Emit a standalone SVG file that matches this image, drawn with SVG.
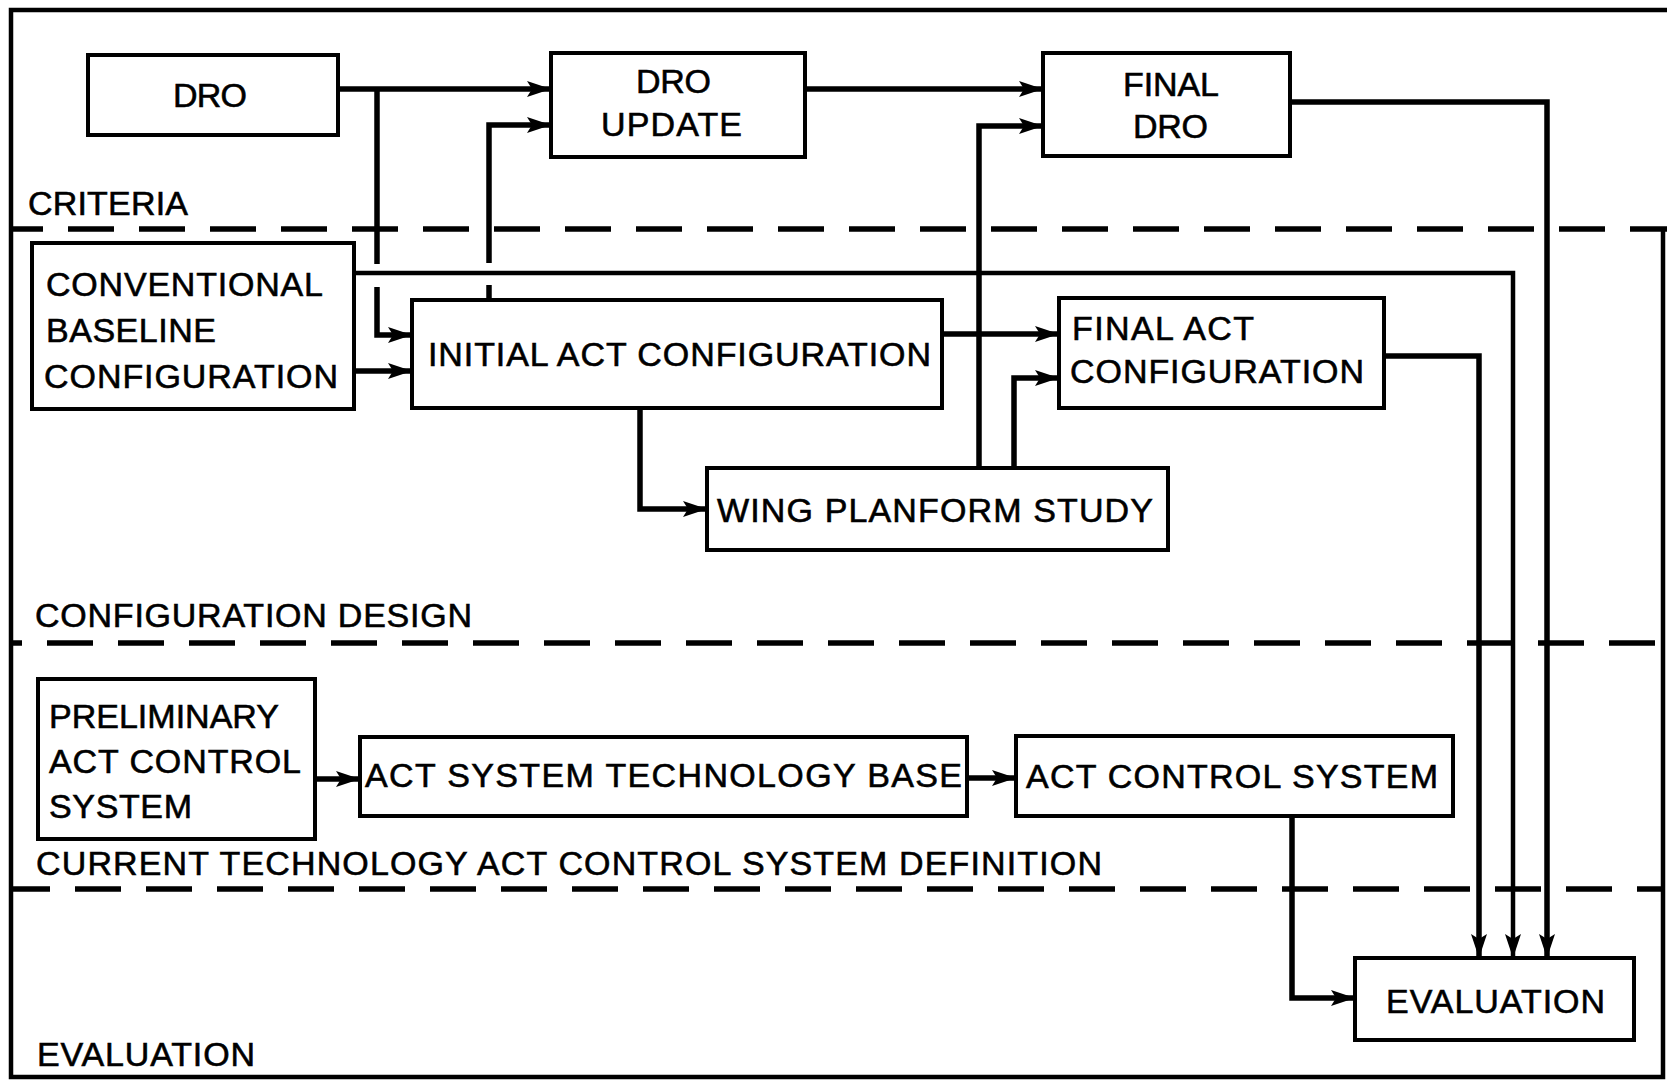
<svg xmlns="http://www.w3.org/2000/svg" width="1667" height="1080" viewBox="0 0 1667 1080">
<defs>
<style>
.bg{fill:#fff}
.frame{fill:none;stroke:#000;stroke-width:4.5}
.dash{fill:none;stroke:#000;stroke-width:5.5;stroke-dasharray:46 25}
.box{fill:#fff;stroke:#000;stroke-width:4}
.t{font-family:"Liberation Sans",Arial,Helvetica,sans-serif;font-size:34px;fill:#000;stroke:#000;stroke-width:0.6}
.c{fill:none;stroke:#000;stroke-width:5.5;stroke-linejoin:miter}
.thin{stroke-width:4.5}
</style>
<marker id="ah" markerUnits="userSpaceOnUse" markerWidth="26" markerHeight="18" refX="24" refY="8" orient="auto">
<path d="M0,0 L24,8 L0,16 L5,8 Z" fill="#000"/>
</marker>
</defs>
<rect class="bg" x="0" y="0" width="1667" height="1080"/>

<g id="frame">
<path class="frame" d="M1667,10 H11 V1077 H1663 V229"/>
</g>

<g id="swimlanes">
<line class="dash" x1="11" y1="229" x2="1667" y2="229" stroke-dashoffset="14"/>
<line class="dash" x1="11" y1="643" x2="1667" y2="643" stroke-dashoffset="35"/>
<line class="dash" x1="11" y1="889" x2="1663" y2="889" stroke-dashoffset="7"/>
<text class="t" x="28" y="215" textLength="160">CRITERIA</text>
<text class="t" x="35" y="627" textLength="437">CONFIGURATION DESIGN</text>
<text class="t" x="36" y="875" textLength="1066">CURRENT TECHNOLOGY ACT CONTROL SYSTEM DEFINITION</text>
<text class="t" x="37" y="1066" textLength="218">EVALUATION</text>
</g>

<g id="node-dro">
<rect class="box" x="88" y="55" width="250" height="80"/>
<text class="t" x="173" y="107" textLength="74">DRO</text>
</g>
<g id="node-dro-update">
<rect class="box" x="551" y="53" width="254" height="104"/>
<text class="t" x="636" y="93" textLength="75">DRO</text>
<text class="t" x="601" y="136" textLength="141">UPDATE</text>
</g>
<g id="node-final-dro">
<rect class="box" x="1043" y="53" width="247" height="103"/>
<text class="t" x="1123" y="96" textLength="96">FINAL</text>
<text class="t" x="1133" y="138" textLength="75">DRO</text>
</g>
<g id="node-conventional">
<rect class="box" x="32" y="243" width="322" height="166"/>
<text class="t" x="46" y="296" textLength="277">CONVENTIONAL</text>
<text class="t" x="46" y="342" textLength="170">BASELINE</text>
<text class="t" x="44" y="388" textLength="294">CONFIGURATION</text>
</g>
<g id="node-initial-act">
<rect class="box" x="412" y="300" width="530" height="108"/>
<text class="t" x="428" y="366" textLength="503">INITIAL ACT CONFIGURATION</text>
</g>
<g id="node-final-act">
<rect class="box" x="1059" y="298" width="325" height="110"/>
<text class="t" x="1072" y="340" textLength="182">FINAL ACT</text>
<text class="t" x="1070" y="383" textLength="294">CONFIGURATION</text>
</g>
<g id="node-wing">
<rect class="box" x="707" y="468" width="461" height="82"/>
<text class="t" x="717" y="522" textLength="436">WING PLANFORM STUDY</text>
</g>
<g id="node-preliminary">
<rect class="box" x="38" y="679" width="277" height="160"/>
<text class="t" x="49" y="728" textLength="230">PRELIMINARY</text>
<text class="t" x="49" y="773" textLength="252">ACT CONTROL</text>
<text class="t" x="49" y="818" textLength="143">SYSTEM</text>
</g>
<g id="node-tech-base">
<rect class="box" x="360" y="737" width="607" height="79"/>
<text class="t" x="365" y="787" textLength="597">ACT SYSTEM TECHNOLOGY BASE</text>
</g>
<g id="node-act-control">
<rect class="box" x="1016" y="736" width="437" height="80"/>
<text class="t" x="1026" y="788" textLength="412">ACT CONTROL SYSTEM</text>
</g>
<g id="node-evaluation">
<rect class="box" x="1355" y="958" width="279" height="82"/>
<text class="t" x="1386" y="1013" textLength="219">EVALUATION</text>
</g>

<g id="connectors">
<path class="c" d="M338,89 H551" marker-end="url(#ah)"/>
<path class="c" d="M377,89 V264"/>
<path class="c" d="M377,287 V335 H412" marker-end="url(#ah)"/>
<path class="c" d="M489,300 V285"/>
<path class="c" d="M489,263 V125 H551" marker-end="url(#ah)"/>
<path class="c" d="M805,89 H1043" marker-end="url(#ah)"/>
<path class="c" d="M979,468 V126 H1043" marker-end="url(#ah)"/>
<path class="c" d="M942,334 H1059" marker-end="url(#ah)"/>
<path class="c" d="M1014,468 V378 H1059" marker-end="url(#ah)"/>
<path class="c" d="M640,408 V509 H707" marker-end="url(#ah)"/>
<path class="c" d="M354,371 H412" marker-end="url(#ah)"/>
<path class="c thin" d="M354,273 H1513 V958" marker-end="url(#ah)"/>
<path class="c" d="M1290,102 H1547 V958" marker-end="url(#ah)"/>
<path class="c" d="M1384,356 H1479 V958" marker-end="url(#ah)"/>
<path class="c" d="M1292,816 V998 H1355" marker-end="url(#ah)"/>
<path class="c" d="M315,779 H360" marker-end="url(#ah)"/>
<path class="c" d="M967,778 H1016" marker-end="url(#ah)"/>
</g>
</svg>
